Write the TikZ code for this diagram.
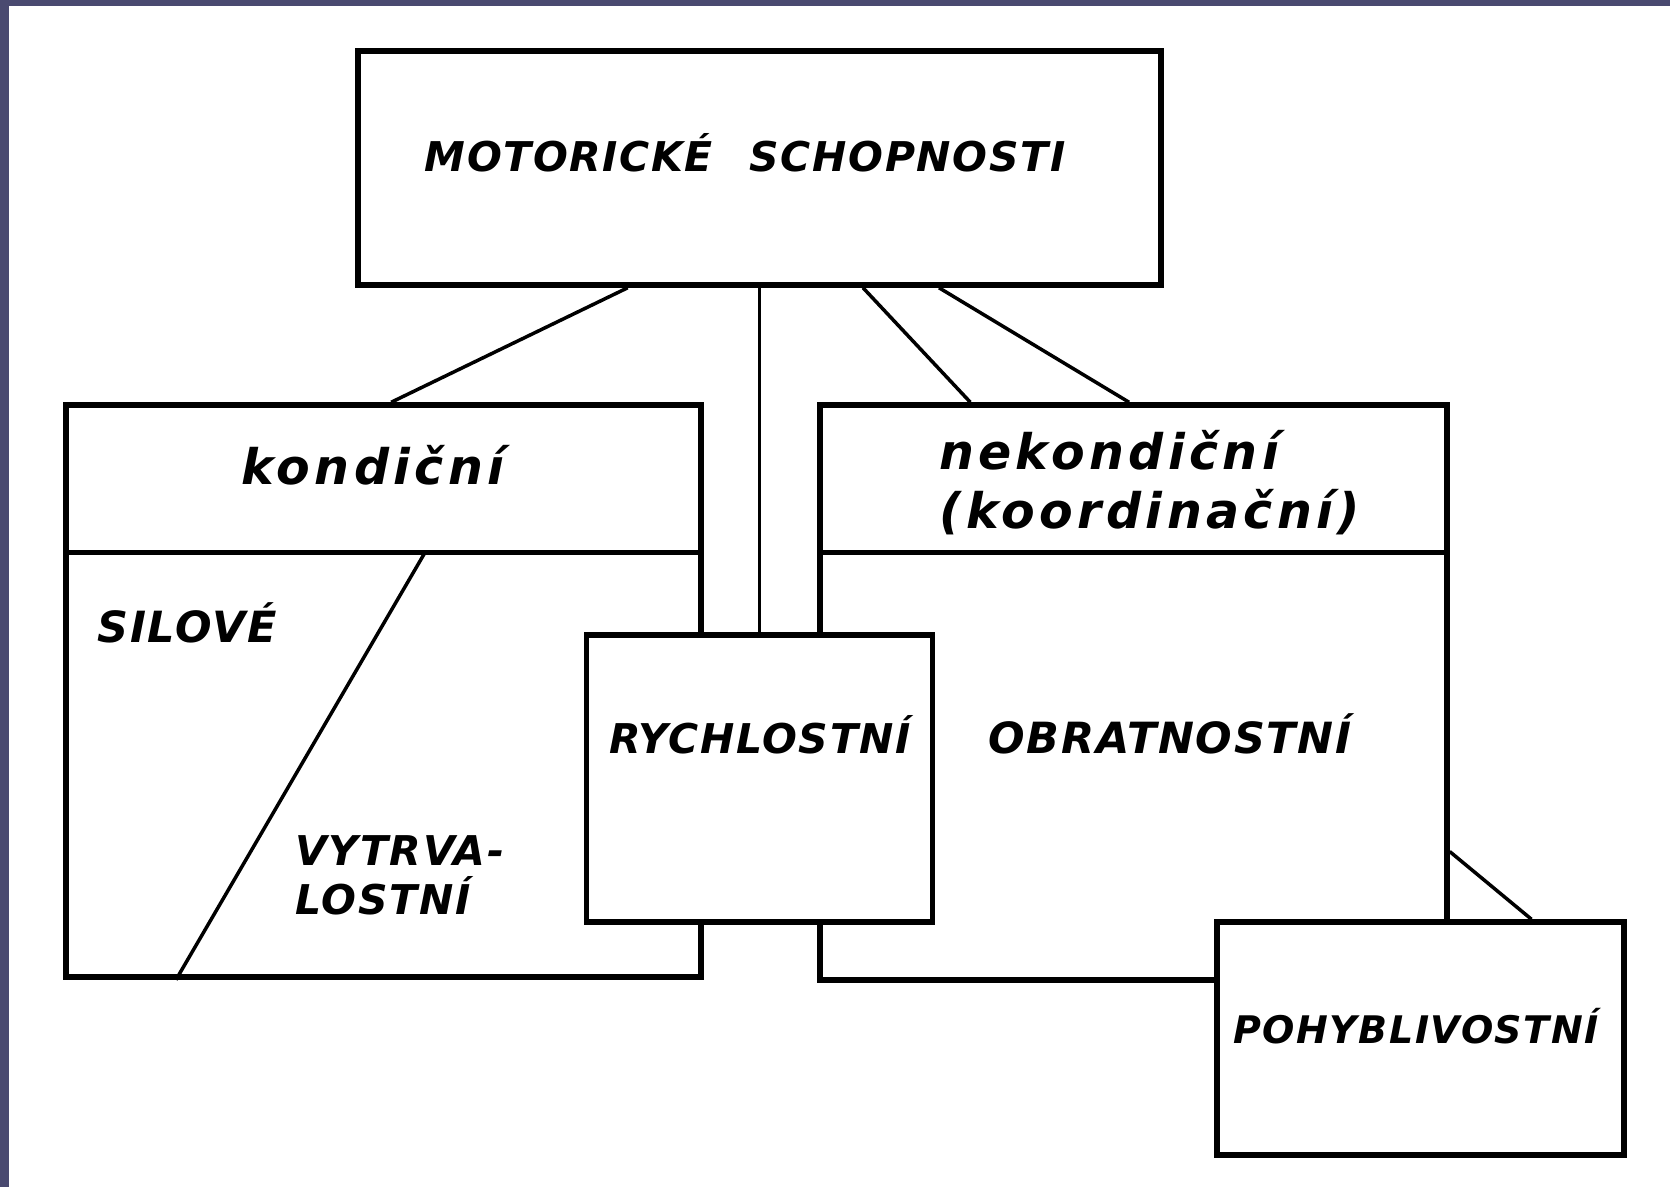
\documentclass[tikz,border=0pt]{standalone}
\usepackage{fontspec}
\newfontfamily\handcaps[LetterSpace=4]{DejaVu Sans}
\newfontfamily\handlow[LetterSpace=9]{DejaVu Sans}
\usepackage{tikz}
\usetikzlibrary{calc,positioning}
\definecolor{strip}{RGB}{74,74,112}

\begin{document}
\begin{tikzpicture}[x=1pt, y=-1pt,
        box/.style={draw, line width=5.5pt, fill=white, inner sep=0pt},
        divline/.style={line width=5pt},
        conn/.style={line width=3.5pt},
        upper/.style={font=\handcaps\bfseries\itshape\fontsize{41}{49}\selectfont, align=left},
        lower/.style={font=\handlow\bfseries\itshape\fontsize{49}{58}\selectfont}
    ]
        \fill[white] (0,0) rectangle (1670,1187);
        \fill[strip] (0,0) rectangle (1670,6);
        \fill[strip] (0,0) rectangle (9,1187);
        \useasboundingbox (0,0) rectangle (1670,1187);

        \node[box, minimum width=803pt, minimum height=234pt] (mot) at (759.5,168) {};
        \node[box, minimum width=635pt, minimum height=572pt] (kond) at (383.5,691) {};
        \node[box, minimum width=627pt, minimum height=575pt] (nekond) at (1133.5,692.5) {};

        \coordinate (kl) at ([yshift=-150pt]kond.north west);
        \coordinate (kr) at ([yshift=-150pt]kond.north east);
        \coordinate (nl) at ([yshift=-150pt]nekond.north west);
        \coordinate (nr) at ([yshift=-150pt]nekond.north east);
        \draw[divline] (kl) -- (kr);
        \draw[divline] (nl) -- (nr);
        \draw[conn] ($(kl)!.565!(kr)$) -- ($(kond.south west)!.176!(kond.south east)$);

        \node[box, minimum width=346pt, minimum height=287pt] (rychl) at (759.5,778.5) {};
        \node[box, minimum width=407pt, minimum height=233pt] (pohyb) at (1420.5,1038.5) {};

        \draw[conn] ($(mot.south west)!.337!(mot.south east)$) -- ($(kond.north west)!.512!(kond.north east)$);
        \draw[conn] (mot.south) -- (rychl.north);
        \draw[conn] ($(mot.south west)!.628!(mot.south east)$) -- ($(nekond.north west)!.242!(nekond.north east)$);
        \draw[conn] ($(mot.south west)!.722!(mot.south east)$) -- ($(nekond.north west)!.493!(nekond.north east)$);
        \draw[conn] ($(nekond.north east)!.774!(nekond.south east)$) -- ($(pohyb.north west)!.769!(pohyb.north east)$);

        \node[upper] (tmot) at (745,153) {MOTORICKÉ\hspace{0.9em}SCHOPNOSTI};
        \node[lower] (tkond) at (373,465) {kondiční};
        \node[lower] (tnek) at (1109,450) {nekondiční};
        \node[lower] (tkoord) at (1150,512) {(koordinační)};
        \node[upper, font=\handcaps\bfseries\itshape\fontsize{43}{49}\selectfont] (tsil) at (187,623) {SILOVÉ};
        \node[upper, anchor=west] (tvyt) at (292,875) {VYTRVA-\\LOSTNÍ};
        \node[upper] (trych) at (760,735) {RYCHLOSTNÍ};
        \node[upper, font=\handcaps\bfseries\itshape\fontsize{43}{49}\selectfont] (tobr) at (1170,734) {OBRATNOSTNÍ};
        \node[upper, font=\handcaps\bfseries\itshape\fontsize{38}{46}\selectfont] (tpoh) at (1416,1026) {POHYBLIVOSTNÍ};
    \end{tikzpicture}
\end{document}
